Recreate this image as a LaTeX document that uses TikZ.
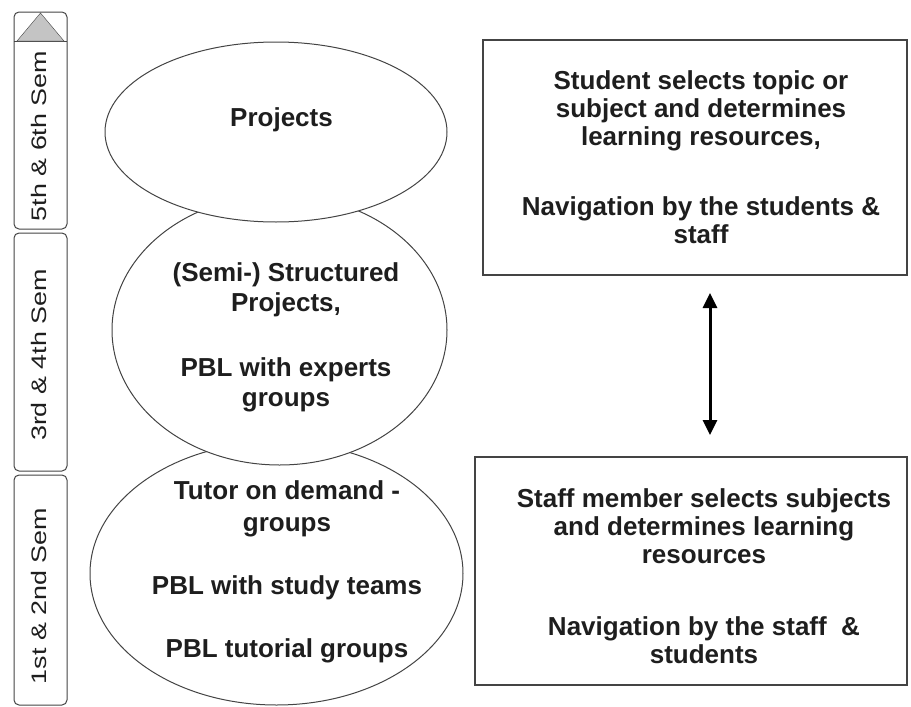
\documentclass[tikz,border=0pt]{standalone}
\usepackage{fontspec}
\setmainfont{Liberation Sans}
\usetikzlibrary{arrows.meta}
\definecolor{linegray}{HTML}{444444}
\definecolor{trigray}{HTML}{C4C4C4}
\definecolor{inkgray}{HTML}{1E1E1E}

\tikzset{
  sembox/.style={draw=linegray, line width=1pt, rounded corners=5pt},
  semtext/.style={rotate=90, font=\fontsize{21}{24}\selectfont, text=inkgray, inner sep=0pt},
  lev/.style={draw=linegray, line width=1pt, fill=white},
  txt/.style={align=center, font=\fontsize{26}{28}\selectfont\bfseries, text=inkgray, inner sep=0pt},
  navbox/.style={draw=linegray, line width=1.6pt, inner sep=0pt}
}

\begin{document}
\begin{tikzpicture}[x=1pt,y=-1pt]
        \useasboundingbox (0,0) rectangle (911,707);

        % semester bar
        \draw[sembox] (14,12) rectangle (67,229);
        \draw[sembox] (14,233) rectangle (67,471);
        \draw[sembox] (14,475) rectangle (67,705);
        \draw[linegray] (14,41) -- (67,41);
        \filldraw[fill=trigray, draw=linegray] (17,41) -- (40.5,13) -- (64,41) -- cycle;

        \node[semtext] (S56) at (39,136) {\scalebox{1.28}[1]{5th \& 6th Sem}};
        \node[semtext] (S34) at (39,355) {\scalebox{1.28}[1]{3rd \& 4th Sem}};
        \node[semtext] (S12) at (39,596) {\scalebox{1.28}[1]{1st \& 2nd Sem}};

        % levels, lowest first
        \filldraw[lev] (276.5,573.5) ellipse [x radius=186.5pt, y radius=131.5pt];
        \filldraw[lev] (279.5,330) ellipse [x radius=167.5pt, y radius=135pt];
        \filldraw[lev] (276,132) ellipse [x radius=171pt, y radius=90pt];

        \node[txt] (L3) at (281.5,120) {Projects};
        \node[txt, font=\fontsize{26}{30}\selectfont\bfseries] (L2) at (286,337)
          {(Semi-) Structured\\ Projects,\\[35pt] PBL with experts\\ groups};
        \node[txt, font=\fontsize{26}{32}\selectfont\bfseries] (L1) at (287,572)
          {Tutor on demand -\\ groups\\[31pt] PBL with study teams\\[31pt] PBL tutorial groups};

        % navigation
        \node[navbox, minimum width=424pt, minimum height=235pt] (Stud) at (695,157.5) {};
        \node[navbox, minimum width=432pt, minimum height=228pt] (Staf) at (691,571) {};

        \node[txt] (StudT) at (701,157)
          {Student selects topic or\\ subject and determines\\ learning resources,\\[42pt]
           Navigation by the students \&\\ staff};
        \node[txt] (StafT) at (704,576)
          {Staff member selects subjects\\ and determines learning\\ resources\\[44pt]
           Navigation by the staff\ \ \&\\ students};

        \coordinate (up) at (710,293);
        \coordinate (dn) at (710,435);
        \draw[{Triangle[width=14pt,length=15pt]}-{Triangle[width=14pt,length=15pt]},
          line width=3pt] (up) -- (dn);
        %\draw (Stud.south) -- (Staf.north);
\end{tikzpicture}
\end{document}
